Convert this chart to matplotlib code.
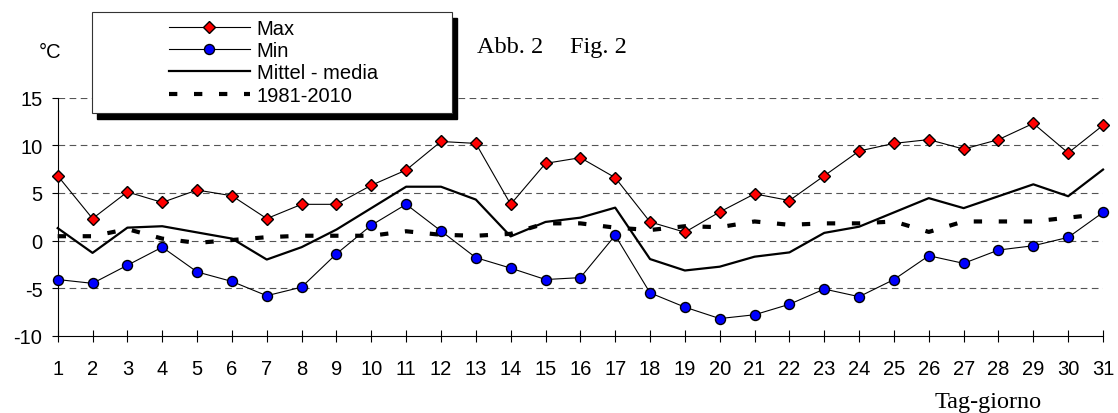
import matplotlib
matplotlib.use("Agg")
import matplotlib.pyplot as plt
from matplotlib.patches import Rectangle

plt.rcParams['font.family'] = ['Liberation Sans', 'DejaVu Sans']
plt.rcParams['axes.unicode_minus'] = False

# daily temperatures (degC) for days 1..31
days = list(range(1, 32))
t_max = [6.8, 2.3, 5.1, 4.0, 5.3, 4.7, 2.3, 3.8, 3.8, 5.8,
         7.4, 10.4, 10.2, 3.8, 8.1, 8.7, 6.6, 1.95, 0.87, 3.0,
         4.9, 4.2, 6.8, 9.4, 10.2, 10.6, 9.6, 10.6, 12.3, 9.2, 12.1]
t_min = [-4.1, -4.5, -2.6, -0.7, -3.3, -4.3, -5.8, -4.9, -1.4, 1.6,
         3.8, 1.0, -1.8, -2.9, -4.1, -3.9, 0.54, -5.5, -7.0, -8.2,
         -7.8, -6.7, -5.1, -5.9, -4.1, -1.6, -2.4, -1.0, -0.55, 0.33, 2.95]
t_mean = [1.3, -1.3, 1.35, 1.5, 0.85, 0.2, -2.0, -0.7, 1.15, 3.4,
          5.65, 5.65, 4.3, 0.43, 1.95, 2.4, 3.45, -1.95, -3.15, -2.75,
          -1.7, -1.25, 0.8, 1.45, 2.95, 4.45, 3.4, 4.65, 5.9, 4.65, 7.45]
t_norm = [0.45, 0.45, 1.2, 0.2, -0.25, 0.05, 0.35, 0.5, 0.5, 0.5,
          0.97, 0.6, 0.5, 0.7, 1.8, 1.8, 1.35, 1.1, 1.5, 1.4,
          2.0, 1.65, 1.8, 1.8, 2.0, 0.9, 2.0, 2.0, 2.0, 2.4, 2.8]
y_ticks = [-10, -5, 0, 5, 10, 15]

fig = plt.figure(figsize=(11.18, 4.14), dpi=100)
ax = fig.add_axes([0.0516, 0.1867, 0.9350, 0.5749])

ax.plot(days, t_norm, color='black', lw=3, linestyle=(0, (2, 4)),
        label='1981-2010', clip_on=False, zorder=3)
ax.plot(days, t_mean, color='black', lw=1.6, label='Mittel - media',
        clip_on=False, zorder=4)
ax.plot(days, t_min, color='black', lw=0.8, marker='o', ms=7.2,
        mfc='#0000ff', mec='black', mew=1, label='Min', clip_on=False, zorder=5)
ax.plot(days, t_max, color='black', lw=0.8, marker='D', ms=6.6,
        mfc='#ff0000', mec='black', mew=1, label='Max', clip_on=False, zorder=6)

ax.set_xlim(1, 31)
ax.set_ylim(-10, 15)
ax.set_xticks(days)
ax.set_yticks(y_ticks)
for y in y_ticks[1:]:
    ax.axhline(y, color='#555555', lw=0.8, linestyle=(0, (6, 4)), zorder=1)

for s in ['top', 'right']:
    ax.spines[s].set_visible(False)
for s in ['left', 'bottom']:
    ax.spines[s].set_linewidth(0.8)
ax.tick_params(axis='x', direction='inout', length=9, width=0.8,
               pad=12, labelsize=14.5)
ax.tick_params(axis='y', direction='out', length=4.5, width=0.8,
               pad=6.5, labelsize=14.5)

# legend box with shadow
bx, by, bw, bh = 0.0820, 0.7246, 0.3223, 0.2440
fig.add_artist(Rectangle((bx + 5 / 1118, by - 6 / 414), bw, bh,
                         transform=fig.transFigure, fc='black', ec='black', zorder=2))
fig.add_artist(Rectangle((bx, by), bw, bh, transform=fig.transFigure,
                         fc='white', ec='#333333', lw=0.8, zorder=3))

handles, labels = ax.get_legend_handles_labels()
order = [3, 2, 1, 0]
leg = fig.legend([handles[i] for i in order], [labels[i] for i in order],
                 loc='upper left', bbox_to_anchor=(169 / 1118, (414 - 20) / 414),
                 frameon=False, fontsize=14.5, handlelength=4.0,
                 handletextpad=0.35, labelspacing=0.16, borderpad=0,
                 borderaxespad=0)
leg.set_zorder(4)

fig.text(50 / 1118, (414 - 52) / 414, '°C', fontsize=14.5, ha='center', va='center')
fig.text(476.7 / 1118, (414 - 53) / 414, 'Abb. 2', fontsize=17.5,
         family='Liberation Serif', va='baseline')
fig.text(570 / 1118, (414 - 53) / 414, 'Fig. 2', fontsize=17.5,
         family='Liberation Serif', va='baseline')
fig.text(988 / 1118, (414 - 408) / 414, 'Tag-giorno', fontsize=17.5,
         family='Liberation Serif', ha='center', va='baseline')

fig.savefig('out.png', dpi=100)
